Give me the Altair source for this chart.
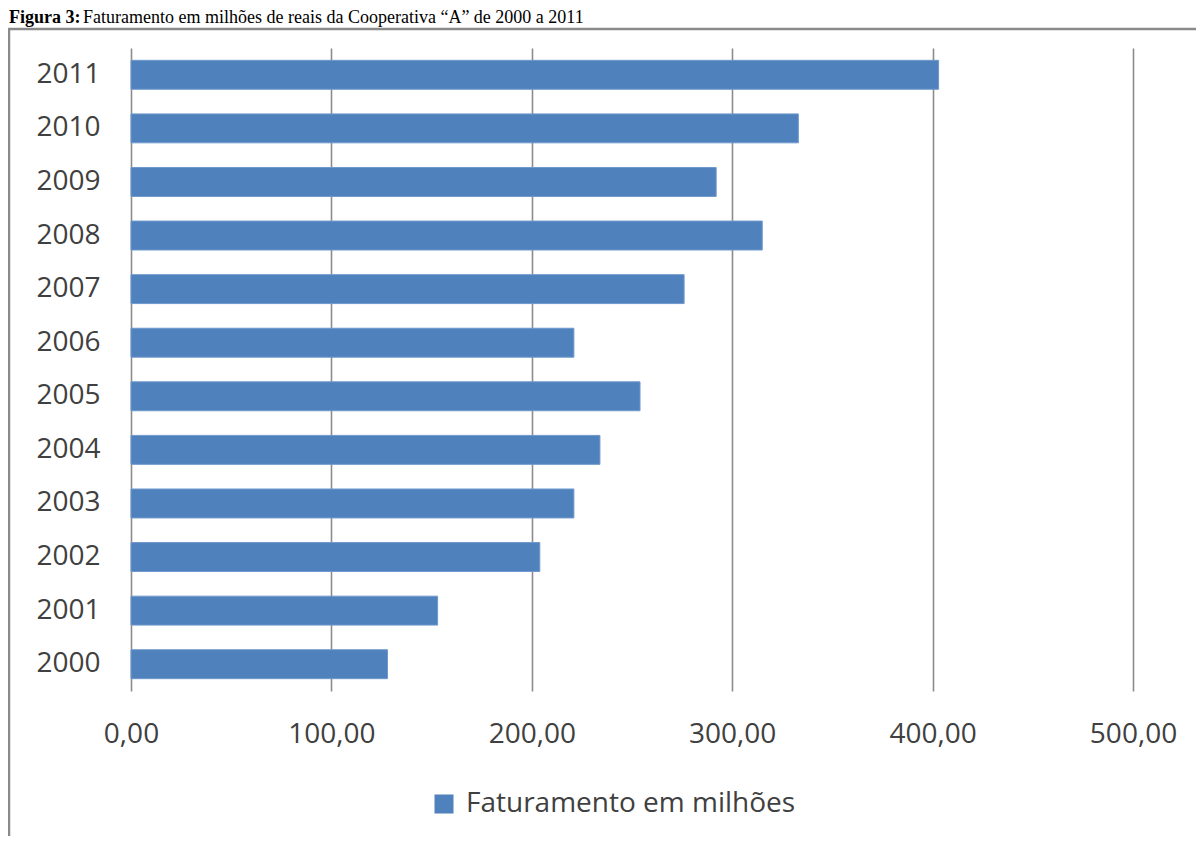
import altair as alt
import pandas as pd

# ---- data ----
anos = ["2011", "2010", "2009", "2008", "2007", "2006",
        "2005", "2004", "2003", "2002", "2001", "2000"]
faturamento = [403, 333, 292, 315, 276, 221, 254, 234, 221, 204, 153, 128]
serie_nome = "Faturamento em milhões"
x_ticks = [0, 100, 200, 300, 400, 500]
titulo_negrito = "Figura 3:"
titulo_resto = "Faturamento em milhões de reais da Cooperativa “A” de 2000 a 2011"

df = pd.DataFrame({"ano": anos, "faturamento": faturamento, "serie": [serie_nome] * len(anos)})
one = pd.DataFrame({"k": [0]})

FONT = "Open Sans"
TXT = "#404040"
BLUE = "#4F81BD"

frame = alt.Chart(one).mark_rect(fill="white", fillOpacity=0, stroke="#8a8a8a", strokeWidth=2.5).encode(
    x=alt.value(-122), x2=alt.value(1300), y=alt.value(-19), y2=alt.value(1000)
)

t1 = alt.Chart(one).mark_text(align="left", baseline="alphabetic", font="Liberation Serif",
                              fontSize=18, fontWeight="bold", color="black").encode(
    x=alt.value(-122), y=alt.value(-25), text=alt.value(titulo_negrito)
)
t2 = alt.Chart(one).mark_text(align="left", baseline="alphabetic", font="Liberation Serif",
                              fontSize=18, color="black").encode(
    x=alt.value(-48), y=alt.value(-25), text=alt.value(titulo_resto)
)

bars = alt.Chart(df).mark_bar(stroke="#6f98cc", strokeWidth=1).encode(
    x=alt.X("faturamento:Q",
            scale=alt.Scale(domain=[0, 500], nice=False),
            axis=alt.Axis(values=x_ticks, title=None, grid=True, gridColor="#8c8c8c", gridWidth=1.6,
                          domain=False, ticks=False, labelFont=FONT, labelFontSize=28,
                          labelColor=TXT, labelPadding=29, labelFlush=False,
                          labelExpr="replace(format(datum.value, '.2f'), '.', ',')")),
    y=alt.Y("ano:N", sort=anos,
            scale=alt.Scale(paddingInner=0.46, paddingOuter=0.23),
            axis=alt.Axis(title=None, domain=False, ticks=False, grid=False, labelFont=FONT,
                          labelFontSize=28, labelColor=TXT, labelPadding=31)),
    color=alt.Color("serie:N", scale=alt.Scale(range=[BLUE]),
                    legend=alt.Legend(orient="none", legendX=299, legendY=742, title=None,
                                      symbolType="square", symbolSize=361, symbolStrokeWidth=0,
                                      labelFont=FONT, labelFontSize=28, labelColor=TXT,
                                      labelOffset=8, labelLimit=0)),
)

chart = alt.layer(frame, t1, t2, bars).properties(
    width=1002, height=643,
    padding={"left": 123, "top": 40, "right": 63, "bottom": 145},
    autosize=alt.AutoSizeParams(type="none"),
    background="white",
).configure_view(stroke=None)

chart.save("out.html", embed_options={"renderer": "svg", "actions": False})
